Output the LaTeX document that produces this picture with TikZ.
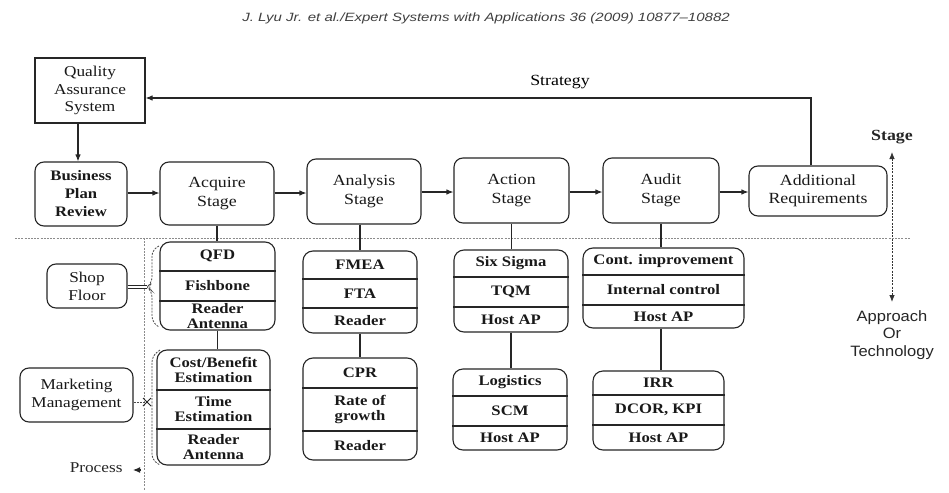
\documentclass[tikz,border=0pt]{standalone}
\usepackage{fontspec}
\setmainfont[FakeStretch=1.15]{Liberation Serif}
\newfontfamily\hdrfont{Liberation Sans}
\newfontfamily\lblsans[FakeStretch=1.1]{Liberation Sans}
\usetikzlibrary{arrows.meta,calc}

% a rounded box split into three rows by two horizontal rules
\newcommand\stackbox[7]{%
  \node[grp, minimum width={#4-#2}, minimum height={#5-#3}] (#1) at ({(#2+#4)/2},{(#3+#5)/2}) {};
  \coordinate (#1-d1) at ({(#2+#4)/2},#6);
  \coordinate (#1-d2) at ({(#2+#4)/2},#7);
  \draw[ink] (#1.west |- #1-d1) -- (#1.east |- #1-d1);
  \draw[ink] (#1.west |- #1-d2) -- (#1.east |- #1-d2);}
\newcommand\stackitems[4]{%
  \node[item] (#1-a) at ($(#1.north)!0.5!(#1-d1)$) {#2};
  \node[item] (#1-b) at ($(#1-d1)!0.5!(#1-d2)$) {#3};
  \node[item] (#1-c) at ($(#1-d2)!0.5!(#1.south)$) {#4};}
% a box given by its corner positions
\newcommand\boxat[7]{%
  \node[#1, minimum width={#5-#3}, minimum height={#6-#4}] (#2) at ({(#3+#5)/2},{(#4+#6)/2}) {#7};}

\begin{document}
\begin{tikzpicture}[x=1pt,y=-1pt,
  font=\fontsize{15.5}{18.5}\selectfont,
  ink/.style={draw=black!85, line width=1.1pt},
  stagebox/.style={ink, rounded corners=9pt, align=center, inner sep=0pt, text=black!90},
  plainbox/.style={ink, align=center, inner sep=0pt, text=black!90},
  grp/.style={ink, rounded corners=10pt, inner sep=0pt},
  item/.style={align=center, inner sep=0pt, text=black!90,
    font=\fontsize{14.5}{15}\selectfont\bfseries},
  arr/.style={ink, -{Latex[length=7pt,width=5.5pt]}},
  guide/.style={draw=black!45, line width=0.8pt, dash pattern=on 2pt off 1.2pt},
]
\useasboundingbox (0,0) rectangle (949,492);
\fill[white] (0,0) rectangle (949,492);

% running header
\node[text=black!75, font=\hdrfont\itshape\fontsize{12}{13}\selectfont] (hdr) at (486,18)
  {\scalebox{1.25}[1]{J. Lyu Jr. et al./Expert Systems with Applications 36 (2009) 10877–10882}};

% strategy row
\boxat{plainbox, font=\fontsize{15}{17.5}\selectfont}{qas}{35}{58}{145}{123}{Quality\\Assurance\\System}
\boxat{stagebox, font=\fontsize{14.5}{18}\selectfont\bfseries}{bpr}{35}{162}{127}{226}{Business\\Plan\\Review}
\boxat{stagebox}{acq}{160}{162}{274}{225}{Acquire\\Stage}
\boxat{stagebox}{ana}{307}{159}{421}{224}{Analysis\\Stage}
\boxat{stagebox}{act}{454}{158}{569}{223}{Action\\Stage}
\boxat{stagebox}{aud}{603}{158}{719}{223}{Audit\\Stage}
\boxat{stagebox}{add}{749}{166}{887}{216}{Additional\\Requirements}

\draw[arr] (qas.south -| 78,0) -- (bpr.north -| 78,0);
\draw[arr] (bpr.east |- 0,193) -- (acq.west |- 0,193);
\draw[arr] (acq.east |- 0,193) -- (ana.west |- 0,193);
\draw[arr] (ana.east |- 0,192) -- (act.west |- 0,192);
\draw[arr] (act.east |- 0,192) -- (aud.west |- 0,192);
\draw[arr] (aud.east |- 0,192) -- (add.west |- 0,192);
\draw[arr] ([xshift=-7pt]add.north) |- ([yshift=-7.5pt]qas.east);
\node (strat) at (560,82) {Strategy};

% dividing guides
\draw[guide] (15,238) -- (910,238);
\draw[guide] (144,238) -- (144,490);

% stage / approach axis
\coordinate (axtop) at (892,152);
\coordinate (axbot) at (892,302);
\draw[guide, draw=black!80, {Latex[length=7pt,width=5.5pt]}-{Latex[length=7pt,width=5.5pt]}] (axtop) -- (axbot);
\node[font=\fontsize{15.5}{17}\selectfont\bfseries, text=black!85] (stagelbl) at (892,137) {Stage};
\node[align=center, text=black!85, font=\lblsans\fontsize{15}{17.5}\selectfont] (techlbl) at (892,335) {Approach\\Or\\Technology};

% approach / technology stacks
\stackbox{qfd}{160}{242}{275}{330}{271}{301}
\stackitems{qfd}{QFD}{Fishbone}{Reader\\Antenna}
\stackbox{cbe}{157}{350}{270}{465}{390}{429}
\stackitems{cbe}{Cost/Benefit\\Estimation}{Time\\Estimation}{Reader\\Antenna}
\stackbox{fmea}{303}{251}{417}{333}{279}{308}
\stackitems{fmea}{FMEA}{FTA}{Reader}
\stackbox{cpr}{303}{358}{417}{460}{388}{431}
\stackitems{cpr}{CPR}{Rate of\\growth}{Reader}
\stackbox{six}{454}{250}{568}{332}{277}{307}
\stackitems{six}{Six Sigma}{TQM}{Host AP}
\stackbox{log}{453}{369}{567}{450}{396}{426}
\stackitems{log}{Logistics}{SCM}{Host AP}
\stackbox{cont}{583}{248}{744}{328}{275}{305}
\stackitems{cont}{Cont. improvement}{Internal control}{Host AP}
\stackbox{irr}{593}{371}{724}{450}{395}{425}
\stackitems{irr}{IRR}{DCOR, KPI}{Host AP}

\draw[ink] (acq.south) -- (acq.south |- qfd.north);
\draw[ink] (qfd.south) -- (qfd.south |- cbe.north);
\draw[ink] (ana.south -| fmea.north) -- (fmea.north);
\draw[ink] (fmea.south) -- (fmea.south |- cpr.north);
\draw[ink] (act.south) -- (act.south |- six.north);
\draw[ink] (six.south) -- (six.south |- log.north);
\draw[ink] (aud.south) -- (aud.south |- cont.north);
\draw[ink] (cont.south -| aud.south) -- (aud.south |- irr.north);

% process side
\boxat{stagebox, font=\fontsize{15}{18}\selectfont}{shop}{47}{264}{127}{308}{Shop\\Floor}
\boxat{stagebox, font=\fontsize{15}{18}\selectfont}{mkt}{20}{368}{133}{422}{Marketing\\Management}

\coordinate (shopnotch) at (147,287);
\draw[guide, draw=black!70, rounded corners=6pt]
  (159,246) -- (152,250) -- (152,283) -- (shopnotch) -- (152,291) -- (152,322) -- (159,327);
\draw[ink, double=white, double distance=2.2pt, line width=0.8pt] (shop.east |- shopnotch) -- (shopnotch);

\coordinate (mktcross) at (147,402);
\draw[guide, draw=black!70, rounded corners=6pt]
  (160,350) -- (152,356) -- (152,460) -- (160,465);
\draw[guide, draw=black!70] (mkt.east |- mktcross) -- (mktcross);
\draw[ink, line width=0.9pt] ([shift={(-4,-4)}]mktcross) -- ([shift={(4,4)}]mktcross)
  ([shift={(-4,4)}]mktcross) -- ([shift={(4,-4)}]mktcross);

\coordinate (procarrow) at (141,470);
\node[anchor=east, text=black!85, font=\fontsize{15}{17}\selectfont] (proc) at (126,468) {Process};
\draw[ink, -{Latex[length=7pt,width=6pt]}] (procarrow) -- ([xshift=-8pt]procarrow);
\end{tikzpicture}
\end{document}
